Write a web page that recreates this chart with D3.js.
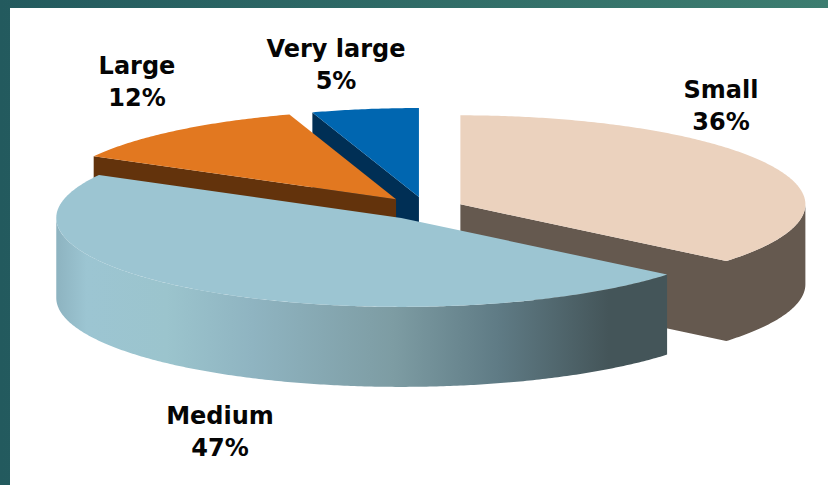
<!DOCTYPE html>
<html>
<head>
<meta charset="utf-8">
<style>
  html, body { margin: 0; padding: 0; background: #fff; overflow: hidden; }
  svg { display: block; }
  text { font-family: "DejaVu Sans", sans-serif; font-weight: 700; fill: #050505; text-anchor: middle; }
</style>
<script src="https://cdn.jsdelivr.net/npm/d3@7/dist/d3.min.js"></script>
</head>
<body>
<script>
// Company size shares
const categories = ["Small", "Medium", "Large", "Very large"];
const shares = [36, 47, 12, 5];

// Slice appearance, in category order
const topColors = ["#ebd2be", "#9cc5d2", "#e27820", "#0066b0"];
const sideColors = ["#65594f", "url(#mediumWall)", "#63330c", "#002f55"];
const explosions = [38, 44, 47, 45];
const paintOrder = [3, 2, 0, 1];
const labelAnchors = [[721, 98], [220, 424], [137, 74], [336, 57]];

// Shading across the outer wall of the Medium slice
const wallOffsets = [0, 0.05, 0.18, 0.32, 0.55, 0.72, 0.9, 1];
const wallColors = ["#8db3c0", "#9cc5d2", "#9bc4cd", "#8fb4c1", "#7d9ca3", "#5f7b85", "#445559", "#445559"];

const width = 828, height = 485;
const center = [426, 208.5];
const rx = 345, ry = 89, depth = 80;
const lineGap = 32;

const svg = d3.select("body").append("svg").attr("width", width).attr("height", height);
const defs = svg.append("defs");

const frame = defs.append("linearGradient").attr("id", "frame")
  .attr("gradientUnits", "userSpaceOnUse").attr("x1", 0).attr("x2", width).attr("y1", 0).attr("y2", 0);
frame.append("stop").attr("offset", 0).attr("stop-color", "#235a5e");
frame.append("stop").attr("offset", 1).attr("stop-color", "#3d7d70");

const wall = defs.append("linearGradient").attr("id", "mediumWall")
  .attr("gradientUnits", "userSpaceOnUse").attr("x1", 56).attr("x2", 670).attr("y1", 0).attr("y2", 0);
wallOffsets.forEach((o, i) => wall.append("stop").attr("offset", o).attr("stop-color", wallColors[i]));

// Slide frame showing along the top and left edges
svg.append("rect").attr("width", width).attr("height", height).attr("fill", "url(#frame)");
svg.append("rect").attr("x", 10).attr("y", 8).attr("width", width - 10).attr("height", height - 8).attr("fill", "#fff");

const arcs = d3.pie().sort(null).value(d => d)(shares);
const line = d3.line();

// Projects an angle measured clockwise from 12 o'clock onto the tilted pie plane
const rim = (a, o, dy = 0) => [o[0] + rx * Math.sin(a), o[1] - ry * Math.cos(a) + dy];
const arcPoints = (a0, a1, o, dy = 0) => {
  const n = Math.max(2, Math.ceil((a1 - a0) / 0.01));
  return d3.range(n + 1).map(i => rim(a0 + (a1 - a0) * i / n, o, dy));
};

const chart = svg.append("g");

paintOrder.forEach(i => {
  const d = arcs[i];
  const mid = (d.startAngle + d.endAngle) / 2;
  const e = explosions[i];
  const o = [center[0] + e * Math.sin(mid), center[1] - e * (ry / rx) * Math.cos(mid)];
  const g = chart.append("g").attr("class", "slice");

  // Side faces share one path so no seam shows between them
  let sides = "";
  const addFace = a => {
    const t = rim(a, o);
    sides += line([o, t, [t[0], t[1] + depth], [o[0], o[1] + depth]]) + "Z";
  };
  if (d.startAngle > Math.PI) addFace(d.startAngle);
  if (d.endAngle < Math.PI) addFace(d.endAngle);

  // Outer wall: only the stretch of rim facing the viewer
  const a0 = Math.max(d.startAngle, Math.PI / 2);
  const a1 = Math.min(d.endAngle, Math.PI * 1.5);
  if (a1 > a0) {
    const upper = arcPoints(a0, a1, o);
    const lower = arcPoints(a0, a1, o, depth).reverse();
    sides += line(upper.concat(lower)) + "Z";
  }
  // Medium's cut faces stay hidden, so its gradient only ever covers the wall
  g.append("path").attr("d", sides).attr("fill", sideColors[i]).attr("fill-rule", "nonzero");

  // Top surface
  g.append("path")
    .attr("d", line([o].concat(arcPoints(d.startAngle, d.endAngle, o))) + "Z")
    .attr("fill", topColors[i]);
});

// Category and share labels
const labels = svg.append("g").attr("font-size", 24);
categories.forEach((c, i) => {
  const [x, y] = labelAnchors[i];
  labels.append("text").attr("x", x).attr("y", y).text(c);
  labels.append("text").attr("x", x).attr("y", y + lineGap).text(shares[i] + "%");
});
</script>
</body>
</html>
